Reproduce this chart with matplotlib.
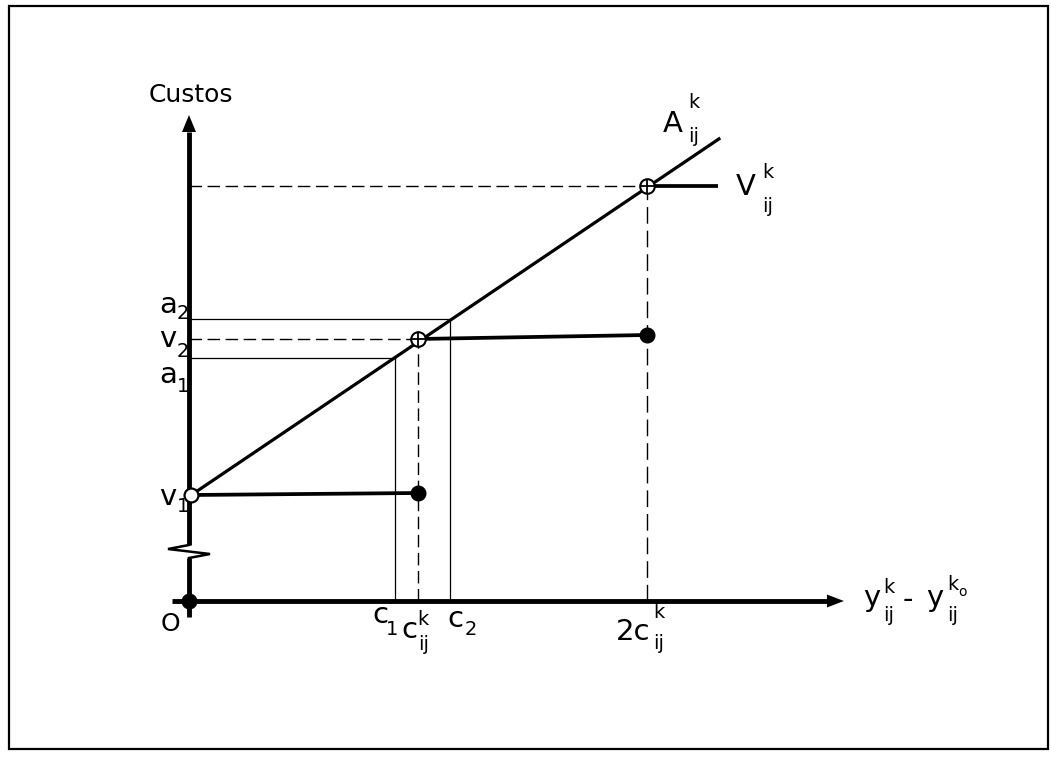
import matplotlib
matplotlib.use("Agg")
import matplotlib.pyplot as plt
from matplotlib.patches import Polygon, Rectangle

# ---------------- data (x in units of c_ij^k, y in cost units) ----------------
x_c1, x_c, x_c2, x_2c = 0.90, 1.00, 1.14, 2.00
y_v1, y_a1, y_v2, y_a2, y_top = 1.06, 2.43, 2.62, 2.82, 4.15

A_x = [0.01, 2.32]
A_y = [1.06, 4.63]

step_x = [[0.01, 1.00], [1.00, 2.00], [2.00, 2.31]]
step_y = [[1.06, 1.08], [2.62, 2.66], [4.15, 4.15]]

dot_x = [0.00, 1.00, 2.00]
dot_y = [0.00, 1.08, 2.66]
open_x = [0.01]
open_y = [1.06]
cross_x = [1.00, 2.00]
cross_y = [2.62, 4.15]

x_axis = [-0.075, 2.86]
y_axis = [-0.16, 4.86]
break_y = [0.43, 0.56]

# ---------------- figure ----------------
W, H, DPI = 1051, 757, 100
X0, SX, Y0, SY = 189, 229.0, 601, 100.0   # pixel origin / scale


def px(x, y):
    """pixel position -> data coordinates (for text placement)"""
    return (x - X0) / SX, (Y0 - y) / SY


fig = plt.figure(figsize=(W / DPI, H / DPI), dpi=DPI)
ax = fig.add_axes([0, 0, 1, 1])
ax.set_xlim(-X0 / SX, (W - X0) / SX)
ax.set_ylim((Y0 - H) / SY, Y0 / SY)
ax.axis("off")

# outer frame
fig.patches.append(Rectangle((9 / W, 1 - 749 / H), 1039 / W, 743 / H,
                             transform=fig.transFigure, fill=False,
                             lw=1.6, ec="black"))

K = "black"
AX_LW = 3.5

# x axis with arrow
ah_len_x, ah_half_x = 17 / SX, 6.5 / SY
ax.plot([x_axis[0], x_axis[1] - ah_len_x], [0, 0], color=K, lw=AX_LW,
        solid_capstyle="butt")
ax.add_patch(Polygon([[x_axis[1], 0], [x_axis[1] - ah_len_x, ah_half_x],
                      [x_axis[1] - ah_len_x, -ah_half_x]], closed=True,
                     color=K, lw=0))

# y axis with break and arrow
ah_len_y, ah_half_y = 17 / SY, 7 / SX
ax.plot([0, 0], [y_axis[0], break_y[0]], color=K, lw=AX_LW,
        solid_capstyle="butt")
ax.plot([0, 0], [break_y[1], y_axis[1] - ah_len_y], color=K, lw=AX_LW,
        solid_capstyle="butt")
ax.add_patch(Polygon([[0, y_axis[1]], [-ah_half_y, y_axis[1] - ah_len_y],
                      [ah_half_y, y_axis[1] - ah_len_y]], closed=True,
                     color=K, lw=0))
bx = 21 / SX
ax.plot([0, -bx, bx, 0],
        [break_y[1], break_y[1] - 0.04, break_y[0] + 0.04, break_y[0]],
        color=K, lw=1.8, solid_joinstyle="miter")

# guide lines: thin solid
ax.plot([0, x_c2], [y_a2, y_a2], color=K, lw=0.9)
ax.plot([0, x_c1], [y_a1, y_a1], color=K, lw=0.9)
ax.plot([x_c1, x_c1], [0, y_a1], color=K, lw=0.9)
ax.plot([x_c2, x_c2], [0, y_a2], color=K, lw=0.9)

# guide lines: dashed
DASH = (0, (9, 4))
ax.plot([0, x_c], [y_v2, y_v2], color=K, lw=1.0, ls=DASH)
ax.plot([x_c, x_c], [0, y_v2], color=K, lw=1.0, ls=DASH)
ax.plot([0, x_2c], [y_top, y_top], color=K, lw=1.0, ls=DASH)
ax.plot([x_2c, x_2c], [0, y_top], color=K, lw=1.0, ls=(0, (12, 5)))

# A line
ax.plot(A_x, A_y, color=K, lw=2.3, solid_capstyle="butt")

# V steps
for sx_, sy_ in zip(step_x, step_y):
    ax.plot(sx_, sy_, color=K, lw=2.7, solid_capstyle="butt")

# markers
ax.plot(dot_x, dot_y, "o", color=K, ms=10.5, zorder=5)
ax.plot(open_x, open_y, "o", mfc="white", mec=K, mew=1.6, ms=10, zorder=6)
ax.plot(cross_x, cross_y, "o", mfc="white", mec=K, mew=1.5, ms=10.5, zorder=6)
ax.plot(cross_x, cross_y, "+", color=K, mew=1.3, ms=10.5, zorder=7)

# ---------------- text ----------------
FONT = "DejaVu Sans"
BIG, SMALL = 21, 14


def lab(x, y, s, size=BIG, ha="left", va="baseline"):
    tx, ty = px(x, y)
    ax.text(tx, ty, s, fontsize=size, ha=ha, va=va, family=FONT, color=K)


lab(191, 95, "Custos", size=18, ha="center", va="center")
lab(170, 624, "O", size=18, ha="center", va="center")

# y-axis labels
lab(159, 313, "a"); lab(177, 319, "2", SMALL)
lab(159, 347, "v"); lab(177, 357, "2", SMALL)
lab(159, 383, "a"); lab(177, 392, "1", SMALL)
lab(159, 505, "v"); lab(177, 512, "1", SMALL)

# x-axis labels
lab(372, 623, "c"); lab(386, 635, "1", SMALL)
lab(401, 638, "c"); lab(417, 625, "k", SMALL); lab(418, 650, "ij", SMALL)
lab(447, 627, "c"); lab(465, 635, "2", SMALL)
lab(616, 640, "2c"); lab(653, 618, "k", SMALL); lab(653, 649, "ij", SMALL)

# axis title right
lab(863, 606, "y"); lab(883, 593, "k", SMALL); lab(883, 621, "ij", SMALL)
lab(903, 608, "-", size=BIG)
lab(926, 606, "y"); lab(947, 590, "k", SMALL); lab(958, 596, "o", 10)
lab(947, 621, "ij", SMALL)

# curve labels
lab(663, 132, "A"); lab(688, 108, "k", SMALL); lab(688, 142, "ij", SMALL)
lab(736, 195, "V"); lab(762, 178, "k", SMALL); lab(762, 212, "ij", SMALL)

fig.savefig("out.png", dpi=DPI)
